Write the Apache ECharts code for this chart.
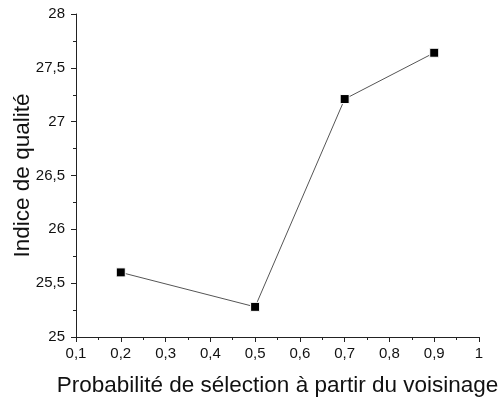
<!DOCTYPE html>
<html><head><meta charset="utf-8">
<script src="https://cdn.jsdelivr.net/npm/echarts@6/dist/echarts.min.js"></script>
<style>html,body{margin:0;padding:0;background:#fff}#c{width:503px;height:398px}</style>
</head><body><div id="c"></div>
<script>
const xValues = [0.2, 0.5, 0.7, 0.9];
const yValues = [25.6, 25.28, 27.21, 27.64];
const xTitle = 'Probabilité de sélection à partir du voisinage';
const yTitle = 'Indice de qualité';
const fmt = v => String(Math.round(v * 10) / 10).replace('.', ',');
const chart = echarts.init(document.getElementById('c'));
const axisCommon = {
  axisLine: {lineStyle: {color: '#222', width: 1}},
  axisTick: {inside: false, length: 5, lineStyle: {color: '#222'}},
  minorTick: {show: true, splitNumber: 2, length: 3, lineStyle: {color: '#222'}},
  splitLine: {show: false},
  axisLabel: {color: '#111', fontSize: 15, fontFamily: 'Liberation Sans', formatter: fmt},
  nameTextStyle: {color: '#111', fontSize: 22.5, fontFamily: 'Liberation Sans'}
};
chart.setOption({
  animation: false,
  grid: {left: 76, right: 24, top: 14, bottom: 61, containLabel: false, outerBoundsMode: 'none'},
  xAxis: Object.assign({}, axisCommon, {
    type: 'value', min: 0.1, max: 1, interval: 0.1,
    name: xTitle, nameLocation: 'middle', nameGap: 37, nameMoveOverlap: false,
    axisLabel: Object.assign({}, axisCommon.axisLabel, {margin: 9})
  }),
  yAxis: Object.assign({}, axisCommon, {
    type: 'value', min: 25, max: 28, interval: 0.5,
    name: yTitle, nameLocation: 'middle', nameGap: 42, nameMoveOverlap: false,
    axisLabel: Object.assign({}, axisCommon.axisLabel, {margin: 11})
  }),
  series: [{
    type: 'line',
    data: xValues.map((x, i) => [x, yValues[i]]),
    symbol: 'rect', symbolSize: 9,
    itemStyle: {color: '#000', borderColor: '#fff', borderWidth: 1},
    lineStyle: {color: '#555', width: 1}
  }]
});
</script></body></html>
